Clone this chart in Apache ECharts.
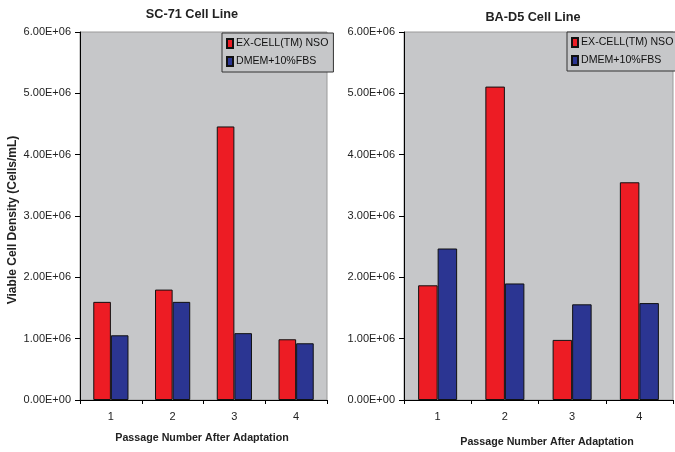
<!DOCTYPE html>
<html>
<head>
<meta charset="utf-8">
<style>
  html, body { margin: 0; padding: 0; background: #fff; }
  #chart { width: 675px; height: 452px; }
</style>
<script src="https://cdn.jsdelivr.net/npm/echarts@6/dist/echarts.min.js"></script>
</head>
<body>
<div id="chart"></div>
<script>
// Passage numbers after adaptation
const passages = ['1', '2', '3', '4'];
const seriesNames = ['EX-CELL(TM) NSO', 'DMEM+10%FBS'];

// SC-71 cell line, viable cells / mL
const sc71ExCell = [1.60e6, 1.80e6, 4.46e6, 0.99e6];
const sc71Dmem = [1.055e6, 1.60e6, 1.09e6, 0.925e6];

// BA-D5 cell line, viable cells / mL
const bad5ExCell = [1.87e6, 5.11e6, 0.98e6, 3.55e6];
const bad5Dmem = [2.47e6, 1.90e6, 1.56e6, 1.58e6];

const panelTitles = ['SC-71 Cell Line', 'BA-D5 Cell Line'];
const xTitle = 'Passage Number After Adaptation';
const yTitle = 'Viable Cell Density (Cells/mL)';

const RED = '#ED1C24';
const BLUE = '#2B3592';
const PLOT_BG = '#C6C7C9';
const FONT = 'Liberation Sans, Arial, sans-serif';

// Excel-style scientific labels, e.g. 5.00E+06
function sci(v) {
  if (v === 0) return '0.00E+00';
  const e = Math.floor(Math.log10(Math.abs(v)));
  const m = v / Math.pow(10, e);
  const sign = e < 0 ? '-' : '+';
  const ee = String(Math.abs(e)).padStart(2, '0');
  return m.toFixed(2) + 'E' + sign + ee;
}

const grids = [
  { left: 80, right: 348, top: 32, bottom: 52 },
  { left: 404, right: 2, top: 32, bottom: 52 }
];

function xAxisFor(i) {
  return {
    type: 'category', gridIndex: i, data: passages,
    axisLine: { show: true, lineStyle: { color: '#000', width: 1 } },
    axisTick: { show: true, length: 4, lineStyle: { color: '#000' } },
    axisLabel: { color: '#222', fontFamily: FONT, fontSize: 11, margin: 11 },
    splitLine: { show: false }
  };
}

function yAxisFor(i) {
  return {
    type: 'value', gridIndex: i, min: 0, max: 6e6, interval: 1e6,
    axisLine: { show: true, lineStyle: { color: '#000', width: 1 } },
    axisTick: { show: true, length: 5, lineStyle: { color: '#000' } },
    axisLabel: { color: '#222', fontFamily: FONT, fontSize: 11, margin: 9, formatter: sci },
    splitLine: { show: false }
  };
}

function barSeries(name, data, color, idx, gap) {
  return {
    type: 'bar', name: name, data: data,
    xAxisIndex: idx, yAxisIndex: idx,
    barGap: '0%', barCategoryGap: gap,
    itemStyle: { color: color, borderColor: '#111', borderWidth: 1 },
    emphasis: { disabled: true },
    animation: false
  };
}

function legendAt(left, top) {
  return {
    orient: 'vertical', left: left, top: top,
    data: seriesNames,
    icon: 'rect', itemWidth: 6, itemHeight: 9, itemGap: 7,
    padding: [5, 5, 5, 4],
    backgroundColor: PLOT_BG, borderColor: '#333', borderWidth: 1, borderRadius: 0,
    textStyle: { color: '#111', fontFamily: FONT, fontSize: 10.6, padding: [0, 0, 0, -2] },
    selectedMode: false
  };
}

function centeredText(text, x, y, size, rotation) {
  return {
    type: 'text', x: x, y: y, rotation: rotation || 0, silent: true,
    style: { text: text, align: 'center', verticalAlign: 'middle',
             font: 'bold ' + size + 'px ' + FONT, fill: '#222' }
  };
}

const option = {
  animation: false,
  backgroundColor: '#fff',
  title: [
    { text: panelTitles[0], left: 187, top: 3, textAlign: 'center',
      textStyle: { fontFamily: FONT, fontSize: 12.7, fontWeight: 'bold', color: '#222' } },
    { text: panelTitles[1], left: 528, top: 6, textAlign: 'center',
      textStyle: { fontFamily: FONT, fontSize: 12.7, fontWeight: 'bold', color: '#222' } }
  ],
  legend: [legendAt(222, 33), legendAt(567, 32)],
  grid: grids.map(g => Object.assign({ show: true, backgroundColor: PLOT_BG, borderColor: '#9a9a9a', borderWidth: 1 }, g)),
  xAxis: [xAxisFor(0), xAxisFor(1)],
  yAxis: [yAxisFor(0), yAxisFor(1)],
  graphic: [
    centeredText(xTitle, 202, 438, 10.7),
    centeredText(xTitle, 547, 442, 10.7),
    centeredText(yTitle, 13, 220, 12, Math.PI / 2)
  ],
  series: [
    barSeries(seriesNames[0], sc71ExCell, RED, 0, '43%'),
    barSeries(seriesNames[1], sc71Dmem, BLUE, 0, '43%'),
    barSeries(seriesNames[0], bad5ExCell, RED, 1, '42%'),
    barSeries(seriesNames[1], bad5Dmem, BLUE, 1, '42%')
  ]
};

const chart = echarts.init(document.getElementById('chart'), null, { renderer: 'canvas' });
chart.setOption(option);
</script>
</body>
</html>
